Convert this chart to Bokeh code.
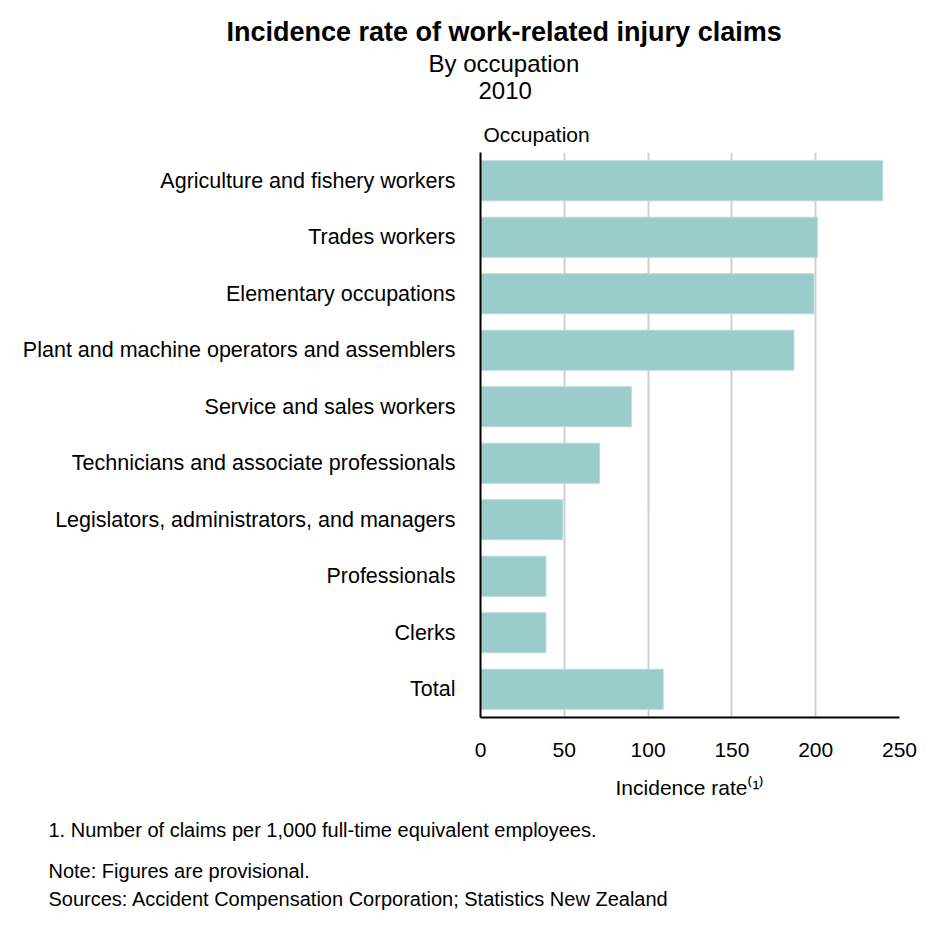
from bokeh.plotting import figure
from bokeh.models import Range1d, FactorRange, FixedTicker, ColumnDataSource, Title
from bokeh.embed import file_html
from bokeh.resources import INLINE

occupations = [
    "Agriculture and fishery workers",
    "Trades workers",
    "Elementary occupations",
    "Plant and machine operators and assemblers",
    "Service and sales workers",
    "Technicians and associate professionals",
    "Legislators, administrators, and managers",
    "Professionals",
    "Clerks",
    "Total",
]
rates = [240, 201, 199, 187, 90, 71, 49, 39, 39, 109]
x_ticks = [0, 50, 100, 150, 200, 250]

title_text = "Incidence rate of work-related injury claims"
subtitle_text = "By occupation"
year_text = "2010"
y_title = "Occupation"
x_title = "Incidence rate\u207d\u00b9\u207e"
footnotes = [
    "1. Number of claims per 1,000 full-time equivalent employees.",
    "Note: Figures are provisional.",
    "Sources: Accident Compensation Corporation; Statistics New Zealand",
]

FONT = "Liberation Sans"
W, H = 925, 916
FL, FT, FB, FR = 480, 152, 717, 899  # frame edges on the page

src = ColumnDataSource(dict(occ=occupations, rate=rates))
p = figure(
    width=W, height=H, title=None,
    y_range=FactorRange(factors=list(reversed(occupations))),
    x_range=Range1d(0, 250),
    output_backend="svg", toolbar_location=None,
    min_border_left=FL, min_border_right=W - FR,
    min_border_top=FT, min_border_bottom=H - FB,
)
p.outline_line_color = None
p.hbar(y="occ", right="rate", left=0, height=0.71, source=src,
       fill_color="#9ACCCC", line_color="#B8DCDC", line_width=1)

p.xaxis.ticker = FixedTicker(ticks=x_ticks)
p.xaxis.major_tick_line_color = None
p.xaxis.minor_tick_line_color = None
p.xaxis.axis_line_color = "black"
p.xaxis.axis_line_width = 2
p.xaxis.major_label_standoff = 19
p.xaxis.major_label_text_font = FONT
p.xaxis.major_label_text_font_size = "21px"
p.xaxis.major_label_text_color = "black"
p.xaxis.axis_label = x_title
p.xaxis.axis_label_text_font = FONT
p.xaxis.axis_label_text_font_size = "21px"
p.xaxis.axis_label_text_font_style = "normal"
p.xaxis.axis_label_text_color = "black"
p.xaxis.axis_label_standoff = 16

p.yaxis.major_tick_line_color = None
p.yaxis.minor_tick_line_color = None
p.yaxis.axis_line_color = "black"
p.yaxis.axis_line_width = 2
p.yaxis.major_label_standoff = 19
p.yaxis.major_label_text_font = FONT
p.yaxis.major_label_text_font_size = "21.5px"
p.yaxis.major_label_text_color = "black"

p.ygrid.grid_line_color = None
p.xgrid.grid_line_color = "#D0D0D0"
p.xgrid.grid_line_width = 2


def add_title(text, place, size, left_x, standoff, style="normal"):
    # left-aligned titles; offset is measured from the frame's left edge
    p.add_layout(Title(text=text, align="left", offset=left_x - FL, standoff=standoff,
                       text_font=FONT, text_font_size=size, text_font_style=style,
                       text_color="black"), place)


# above: first added sits nearest the frame
add_title(y_title, "above", "21px", 483, 13)
add_title(" ", "above", "1px", 483, 10)          # spacing only
add_title(year_text, "above", "24px", 478, 6)
add_title(subtitle_text, "above", "24px", 428, 0)
add_title(title_text, "above", "27px", 226, 1, "bold")

# below: after the x axis
add_title(footnotes[0], "below", "20px", 48, 31)
add_title(footnotes[1], "below", "20px", 48, 2)
add_title(footnotes[2], "below", "20px", 48, 6)

open("out.html", "w").write(file_html(p, INLINE))
